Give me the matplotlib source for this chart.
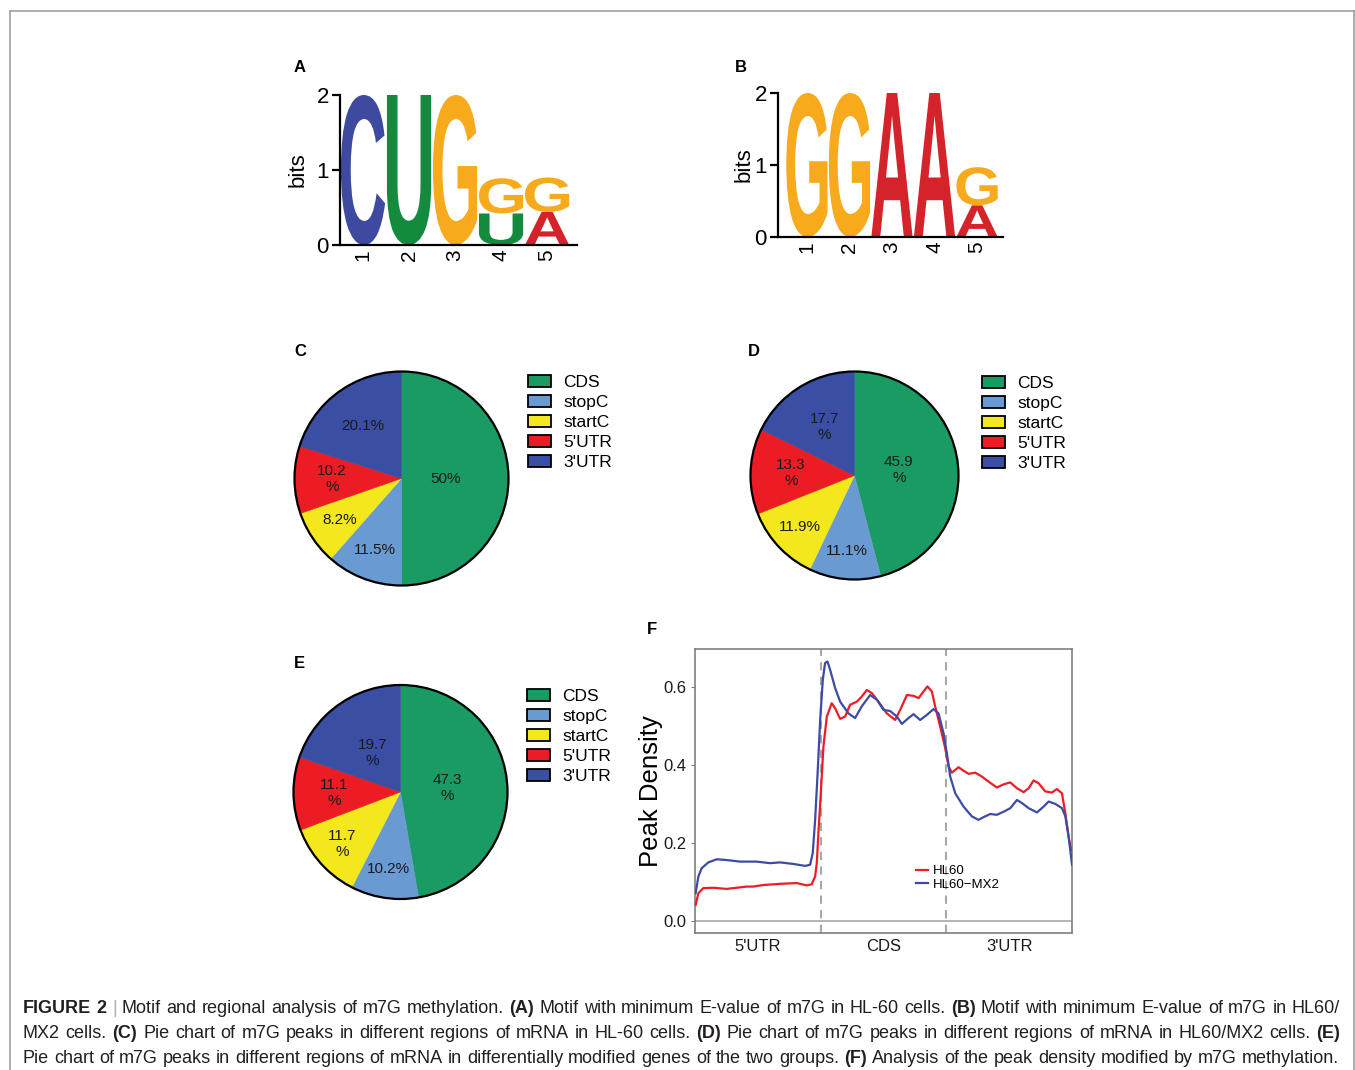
import matplotlib
matplotlib.use('Agg')
import matplotlib.pyplot as plt
import numpy as np
from matplotlib.textpath import TextPath
from matplotlib.patches import PathPatch, Circle, Patch
from matplotlib.font_manager import FontProperties
from matplotlib.transforms import Affine2D
from matplotlib.lines import Line2D

plt.rcParams['font.family'] = ['Liberation Sans', 'DejaVu Sans']

# ---- data ----
logo_a_letters = [['C'], ['U'], ['G'], ['U', 'G'], ['A', 'G']]
logo_a_bits = [[2.0], [2.0], [2.0], [0.42, 0.47], [0.44, 0.46]]
logo_b_letters = [['G'], ['G'], ['A'], ['A'], ['A', 'G']]
logo_b_bits = [[2.0], [2.0], [2.0], [2.0], [0.44, 0.53]]
positions = ['1', '2', '3', '4', '5']

regions = ['CDS', 'stopC', 'startC', "5'UTR", "3'UTR"]
pie_c = [50.0, 11.5, 8.2, 10.2, 20.1]
pie_d = [45.9, 11.1, 11.9, 13.3, 17.7]
pie_e = [47.3, 10.2, 11.7, 11.1, 19.7]
pie_c_labels = ['50%', '11.5%', '8.2%', '10.2\n%', '20.1%']
pie_d_labels = ['45.9\n%', '11.1%', '11.9%', '13.3\n%', '17.7\n%']
pie_e_labels = ['47.3\n%', '10.2%', '11.7\n%', '11.1\n%', '19.7\n%']

hl60_x = [0.005, 0.027, 0.066, 0.146, 0.252, 0.332, 0.411, 0.465, 0.544, 0.677,
          0.810, 0.889, 0.929, 0.956, 0.969, 0.982, 1.001, 1.022, 1.049, 1.088,
          1.115, 1.155, 1.195, 1.234, 1.288, 1.327, 1.367, 1.407, 1.460, 1.526,
          1.593, 1.633, 1.686, 1.739, 1.779, 1.818, 1.850, 1.885, 1.911, 1.951,
          1.991, 2.018, 2.044, 2.097, 2.137, 2.177, 2.230, 2.283, 2.336, 2.402,
          2.456, 2.509, 2.562, 2.615, 2.655, 2.694, 2.734, 2.787, 2.840, 2.880,
          2.920, 2.947, 2.973, 2.992]
hl60_y = [0.041, 0.071, 0.084, 0.085, 0.082, 0.085, 0.088, 0.088, 0.092, 0.095,
          0.097, 0.091, 0.094, 0.114, 0.148, 0.225, 0.327, 0.447, 0.524, 0.558,
          0.545, 0.518, 0.524, 0.554, 0.562, 0.575, 0.592, 0.584, 0.562, 0.532,
          0.515, 0.541, 0.579, 0.577, 0.571, 0.588, 0.601, 0.588, 0.550, 0.498,
          0.443, 0.396, 0.380, 0.394, 0.385, 0.377, 0.380, 0.370, 0.357, 0.342,
          0.350, 0.355, 0.340, 0.330, 0.340, 0.360, 0.353, 0.332, 0.329, 0.338,
          0.327, 0.276, 0.216, 0.182]

mx2_x = [0.005, 0.027, 0.053, 0.106, 0.173, 0.252, 0.358, 0.491, 0.597, 0.677,
         0.783, 0.876, 0.916, 0.937, 0.956, 0.977, 0.996, 1.017, 1.035, 1.054,
         1.075, 1.115, 1.155, 1.221, 1.274, 1.327, 1.394, 1.447, 1.500, 1.553,
         1.606, 1.646, 1.699, 1.739, 1.792, 1.845, 1.898, 1.938, 1.978, 2.004,
         2.031, 2.071, 2.137, 2.203, 2.256, 2.296, 2.349, 2.402, 2.456, 2.509,
         2.562, 2.602, 2.655, 2.721, 2.774, 2.814, 2.867, 2.920, 2.947, 2.973,
         3.000]
mx2_y = [0.071, 0.114, 0.135, 0.150, 0.158, 0.156, 0.152, 0.152, 0.148, 0.150,
         0.146, 0.141, 0.144, 0.174, 0.259, 0.387, 0.515, 0.618, 0.661, 0.665,
         0.644, 0.597, 0.562, 0.532, 0.520, 0.550, 0.579, 0.567, 0.541, 0.538,
         0.524, 0.505, 0.520, 0.530, 0.515, 0.528, 0.543, 0.532, 0.481, 0.430,
         0.370, 0.327, 0.293, 0.268, 0.259, 0.266, 0.274, 0.272, 0.280, 0.289,
         0.310, 0.302, 0.289, 0.278, 0.293, 0.306, 0.300, 0.289, 0.268, 0.216,
         0.144]

region_ticks = ["5'UTR", 'CDS', "3'UTR"]

caption_lines = [
    "FIGURE 2 | Motif and regional analysis of m7G methylation. (A) Motif with minimum E-value of m7G in HL-60 cells. (B) Motif with minimum E-value of m7G in HL60/",
    "MX2 cells. (C) Pie chart of m7G peaks in different regions of mRNA in HL-60 cells. (D) Pie chart of m7G peaks in different regions of mRNA in HL60/MX2 cells. (E)",
    "Pie chart of m7G peaks in different regions of mRNA in differentially modified genes of the two groups. (F) Analysis of the peak density modified by m7G methylation.",
]
bold_words = {'FIGURE', '2', '(A)', '(B)', '(C)', '(D)', '(E)', '(F)'}

# ---- layout helpers (pixel based) ----
W, H = 1355, 1070
fig = plt.figure(figsize=(W / 100, H / 100), dpi=100)


def px_rect(left, top, width, height):
    return [left / W, 1 - (top + height) / H, width / W, height / H]


def fxy(x, y):
    return x / W, 1 - y / H


# outer frame
for xs, ys in [([9.5, 9.5], [1070, 10.5]), ([9.5, 1354], [10.5, 10.5]), ([1354, 1354], [10.5, 1070])]:
    fig.add_artist(Line2D([x / W for x in xs], [1 - y / H for y in ys],
                          color='#a0a0a0', lw=1.2))

# ---- sequence logos ----
letter_colors = {'C': '#3d4aa0', 'U': '#138a3c', 'G': '#f7ab1c', 'A': '#d5232b'}
logo_font = FontProperties(family='Liberation Sans', weight='bold')


def draw_letter(ax, ch, xc, y0, w, h):
    tp = TextPath((0, 0), ch, size=1, prop=logo_font)
    bb = tp.get_extents()
    tr = (Affine2D().translate(-bb.x0, -bb.y0)
          .scale(w / bb.width, h / bb.height)
          .translate(xc - w / 2, y0))
    ax.add_patch(PathPatch(tr.transform_path(tp), fc=letter_colors[ch], ec='none'))


def draw_logo(rect, xlim, letters, bits, width):
    ax = fig.add_axes(rect)
    for i, (col_l, col_b) in enumerate(zip(letters, bits)):
        y = 0
        for ch, b in zip(col_l, col_b):
            draw_letter(ax, ch, i + 1, y, width, b)
            y += b
    ax.set_xlim(*xlim)
    ax.set_ylim(0, 2)
    for s in ['top', 'right']:
        ax.spines[s].set_visible(False)
    for s in ['left', 'bottom']:
        ax.spines[s].set_linewidth(1.6)
    ax.set_yticks([0, 1, 2])
    ax.set_yticklabels(['0', '1', '2'], fontsize=16)
    ax.tick_params(axis='y', length=6, width=1.6, pad=2)
    ax.set_xticks(range(1, 6))
    ax.set_xticklabels(positions, rotation=90, fontsize=15)
    ax.tick_params(axis='x', length=0, pad=3)
    return ax


draw_logo(px_rect(340, 95, 237, 150), (0.5, 5.65), logo_a_letters, logo_a_bits, 0.96)
draw_logo(px_rect(778, 93, 225, 144), (0.32, 5.61), logo_b_letters, logo_b_bits, 0.97)
fig.text(*fxy(298, 170), 'bits', rotation=90, ha='center', va='center', fontsize=16)
fig.text(*fxy(744, 165), 'bits', rotation=90, ha='center', va='center', fontsize=16)

# ---- pies ----
region_colors = ['#1a9b64', '#6a9ad2', '#f2e81b', '#ec1c24', '#3a4fa3']


def draw_pie(cx, cy, r, values, texts, dists, leg_xy):
    ax = fig.add_axes(px_rect(cx - r, cy - r, 2 * r, 2 * r))
    wedges, _ = ax.pie(values, colors=region_colors, startangle=90, counterclock=False,
                       radius=1, wedgeprops=dict(linewidth=0.4))
    for wdg in wedges:
        wdg.set_edgecolor(wdg.get_facecolor())
    ax.set_xlim(-1, 1)
    ax.set_ylim(-1, 1)
    ax.add_patch(Circle((0, 0), 1, fill=False, ec='black', lw=1.6, clip_on=False))
    for wdg, t, d in zip(wedges, texts, dists):
        mid = np.deg2rad((wdg.theta1 + wdg.theta2) / 2)
        ax.text(d * np.cos(mid), d * np.sin(mid), t, ha='center', va='center',
                fontsize=11, color='#1a1a1a', linespacing=1.2)
    handles = [Patch(fc=c, ec='black', lw=1.3) for c in region_colors]
    ax.legend(handles, regions, loc='upper left', bbox_to_anchor=fxy(*leg_xy),
              bbox_transform=fig.transFigure, frameon=False, fontsize=12.5,
              handlelength=1.32, handleheight=0.65, handletextpad=0.7,
              labelspacing=0.29, borderpad=0, borderaxespad=0)


draw_pie(401.5, 478.5, 107, pie_c, pie_c_labels, [0.41, 0.71, 0.69, 0.65, 0.61], (528, 375))
draw_pie(854.5, 475.5, 104, pie_d, pie_d_labels, [0.43, 0.73, 0.72, 0.61, 0.55], (982, 376))
draw_pie(400.5, 792, 107, pie_e, pie_e_labels, [0.44, 0.73, 0.73, 0.62, 0.45], (527, 689))

# ---- peak density ----
ax = fig.add_axes(px_rect(695, 649, 377, 284))
ax.axhline(0, color='#a8a8a8', lw=1.2, zorder=1)
for xv in [1, 2]:
    ax.axvline(xv, color='#a8a8a8', lw=1.5, ls=(0, (4, 3)), zorder=1)
ax.plot(hl60_x, hl60_y, color='#ee1c25', lw=1.6, label='HL60', zorder=3)
ax.plot(mx2_x, mx2_y, color='#3c4ba5', lw=1.6, label='HL60\u2212MX2', zorder=3)
ax.set_xlim(0, 3)
ax.set_ylim(-0.031, 0.697)
ax.set_yticks([0.0, 0.2, 0.4, 0.6])
ax.set_yticklabels(['0.0', '0.2', '0.4', '0.6'], fontsize=12, color='#1a1a1a')
ax.set_xticks([0.5, 1.5, 2.5])
ax.set_xticklabels(region_ticks, fontsize=12, color='#1a1a1a')
ax.tick_params(axis='y', length=3, color='#7f7f7f', pad=3)
ax.tick_params(axis='x', length=0, pad=4)
for s in ax.spines.values():
    s.set_color('#7f7f7f')
    s.set_linewidth(1.2)
ax.legend(loc='upper left', bbox_to_anchor=fxy(916, 865), bbox_transform=fig.transFigure,
          frameon=False, fontsize=9.5, handlelength=0.9, handletextpad=0.4,
          labelspacing=0.1, borderpad=0, borderaxespad=0)
fig.text(*fxy(651, 791), 'Peak Density', rotation=90, ha='center', va='center', fontsize=18.5)

# ---- panel letters ----
for lab, (x, y) in {'A': (300, 67), 'B': (741, 67), 'C': (300, 352), 'D': (754, 352),
                    'E': (299, 664), 'F': (652, 629)}.items():
    fig.text(*fxy(x, y), lab, ha='center', va='center', fontsize=12, fontweight='bold')

# ---- caption (justified) ----
renderer = fig.canvas.get_renderer()
cap_left, cap_right = 23, 1340
baselines = [1013, 1038, 1063]
cap_size = 13
for i, line in enumerate(caption_lines):
    words = line.split(' ')
    texts = []
    for w in words:
        texts.append(fig.text(0, 0, w, fontsize=cap_size, va='baseline', ha='left',
                              fontweight='bold' if w in bold_words else 'normal',
                              color='#b0b0b0' if w == '|' else '#231f20'))
    widths = [t.get_window_extent(renderer).width for t in texts]
    if i < 2:
        gap = (cap_right - cap_left - sum(widths)) / (len(words) - 1)
    else:
        gap = 0.278 * cap_size * 100 / 72
    x = cap_left
    for t, wd in zip(texts, widths):
        t.set_position(fxy(x, baselines[i]))
        x += wd + gap

fig.savefig('out.png', dpi=100)
